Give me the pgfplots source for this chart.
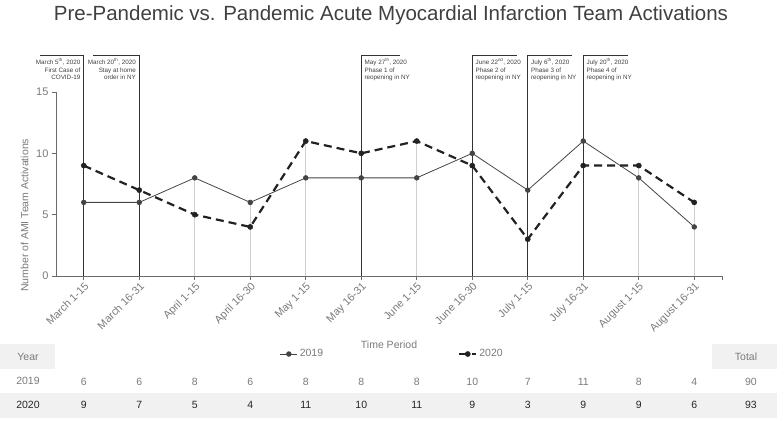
\documentclass[border=0pt]{standalone}
\usepackage{pgfplots}
\pgfplotsset{compat=1.18}
\usepackage{fontspec}
\setmainfont{Liberation Sans}
\definecolor{axisgray}{HTML}{6A6A6A}
\definecolor{textgray}{HTML}{7A7A7A}
\definecolor{dropgray}{HTML}{CFCFCF}
\definecolor{bandgray}{HTML}{F1F1F1}
\definecolor{sA}{HTML}{444444}
\definecolor{sB}{HTML}{222222}
\definecolor{evt}{HTML}{333333}
\begin{document}
\begin{tikzpicture}
\path[use as bounding box] (0pt,0pt) rectangle (777pt,423pt);
% table backgrounds
\fill[bandgray] (0pt,54pt) rectangle (55pt,79pt);
\fill[bandgray] (712pt,54pt) rectangle (777pt,79pt);
\fill[bandgray] (0pt,5pt) rectangle (777pt,30pt);
\node[text=black!75, font=\fontsize{20.5}{24}\selectfont] at (391pt,408pt) {Pre-Pandemic vs. Pandemic Acute Myocardial Infarction Team Activations};
\begin{axis}[
  at={(56pt,147pt)}, anchor=south west,
  width=666pt, height=184pt, scale only axis,
  xmin=-0.5, xmax=11.5, ymin=0, ymax=15,
  axis x line*=bottom, axis y line*=left,
  clip=false,
  xtick={0,...,11},
  extra x ticks={11.5}, extra x tick labels={},
  xticklabels={March 1-15,March 16-31,April 1-15,April 16-30,May 1-15,May 16-31,June 1-15,June 16-30,July 1-15,July 16-31,August 1-15,August 16-31},
  xticklabel style={rotate=45, anchor=north east, font=\fontsize{10.8}{12}\selectfont, text=textgray, inner sep=1pt},
  ytick={0,5,10,15},
  yticklabel style={font=\fontsize{11}{12}\selectfont, text=textgray},
  /pgf/number format/assume math mode=true,
  tick align=outside, major tick length=4pt,
  tick style={axisgray, line width=0.6pt},
  axis line style={axisgray, line width=0.8pt},
  xlabel={Time Period},
  xlabel style={at={(axis description cs:0.5,-0.375)}, anchor=center, font=\fontsize{10.5}{12}\selectfont, text=textgray},
  ylabel={Number of AMI Team Activations},
  ylabel style={at={(axis description cs:-0.047,0.33)}, anchor=center, font=\fontsize{10.5}{12}\selectfont, text=textgray},
  legend style={draw=none, fill=none, at={(axis description cs:0.505,-0.424)}, anchor=center, legend columns=2, font=\fontsize{10.5}{12}\selectfont, text=textgray, /tikz/every even column/.append style={column sep=133pt}},
]
% drop lines
\addplot[dropgray, line width=0.8pt, ycomb, mark=none, forget plot] coordinates {(0,9)(1,7)(2,8)(3,6)(4,11)(5,10)(6,11)(7,10)(8,7)(9,11)(10,9)(11,6)};
% event lines
\addplot[evt, line width=0.9pt, forget plot] coordinates {(-0.78,18)(0,18)(0,0)};
\addplot[evt, line width=0.9pt, forget plot] coordinates {(0.17,18)(1,18)(1,0)};
\addplot[evt, line width=0.9pt, forget plot] coordinates {(5,0)(5,18)(5.7,18)};
\addplot[evt, line width=0.9pt, forget plot] coordinates {(7,0)(7,18)(7.8,18)};
\addplot[evt, line width=0.9pt, forget plot] coordinates {(8,0)(8,18)(8.8,18)};
\addplot[evt, line width=0.9pt, forget plot] coordinates {(9,0)(9,18)(9.8,18)};
% series
\addplot[sA, line width=0.8pt, mark=*, mark size=2.3pt, mark options={solid}] coordinates {(0,6)(1,6)(2,8)(3,6)(4,8)(5,8)(6,8)(7,10)(8,7)(9,11)(10,8)(11,4)};
\addplot[sB, line width=2.2pt, dash pattern=on 8pt off 5pt, mark=*, mark size=2.6pt, mark options={solid, line width=0.4pt}] coordinates {(0,9)(1,7)(2,5)(3,4)(4,11)(5,10)(6,11)(7,9)(8,3)(9,9)(10,9)(11,6)};
\legend{2019,2020}
% event texts
\tikzset{evtxt/.style={font=\fontsize{6.3}{7.6}\selectfont, text=black!75, inner sep=1.5pt}}
\node[evtxt, anchor=north east, align=right] at (axis cs:-0.03,17.85) {March 5\textsuperscript{th}, 2020\\First Case of\\COVID-19};
\node[evtxt, anchor=north east, align=right] at (axis cs:0.97,17.85) {March 20\textsuperscript{th}, 2020\\Stay at home\\order in NY};
\node[evtxt, anchor=north west, align=left] at (axis cs:5.03,17.85) {May 27\textsuperscript{th}, 2020\\Phase 1 of\\reopening in NY};
\node[evtxt, anchor=north west, align=left] at (axis cs:7.03,17.85) {June 22\textsuperscript{nd}, 2020\\Phase 2 of\\reopening in NY};
\node[evtxt, anchor=north west, align=left] at (axis cs:8.03,17.85) {July 6\textsuperscript{th}, 2020\\Phase 3 of\\reopening in NY};
\node[evtxt, anchor=north west, align=left] at (axis cs:9.03,17.85) {July 20\textsuperscript{th}, 2020\\Phase 4 of\\reopening in NY};
% table rows
\addplot[draw=none, mark=none, forget plot, nodes near coords, point meta=explicit,
  nodes near coords style={anchor=center, font=\fontsize{10.5}{12}\selectfont, text=textgray}]
  coordinates {(0,-8.64)[6] (1,-8.64)[6] (2,-8.64)[8] (3,-8.64)[6] (4,-8.64)[8] (5,-8.64)[8] (6,-8.64)[8] (7,-8.64)[10] (8,-8.64)[7] (9,-8.64)[11] (10,-8.64)[8] (11,-8.64)[4] (12.02,-8.64)[90]};
\addplot[draw=none, mark=none, forget plot, nodes near coords, point meta=explicit,
  nodes near coords style={anchor=center, font=\fontsize{10.5}{12}\selectfont, text=black!85}]
  coordinates {(0,-10.52)[9] (1,-10.52)[7] (2,-10.52)[5] (3,-10.52)[4] (4,-10.52)[11] (5,-10.52)[10] (6,-10.52)[11] (7,-10.52)[9] (8,-10.52)[3] (9,-10.52)[9] (10,-10.52)[9] (11,-10.52)[6] (12.02,-10.52)[93]};
\end{axis}
\node[font=\fontsize{10.5}{12}\selectfont, text=textgray] at (28pt,66pt) {Year};
\node[font=\fontsize{10.5}{12}\selectfont, text=textgray] at (28pt,42pt) {2019};
\node[font=\fontsize{10.5}{12}\selectfont, text=black!85] at (28pt,18pt) {2020};
\node[font=\fontsize{10.5}{12}\selectfont, text=textgray] at (746pt,66pt) {Total};
\end{tikzpicture}
\end{document}
